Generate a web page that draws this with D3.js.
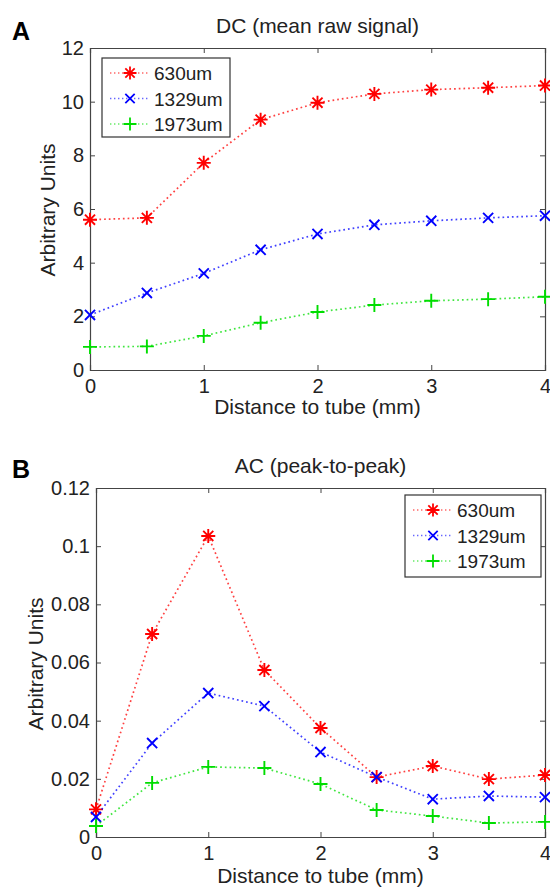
<!DOCTYPE html>
<html>
<head>
<meta charset="utf-8">
<script src="https://cdn.jsdelivr.net/npm/d3@7"></script>
<style>
  body { margin: 0; background: #fff; }
  svg text { font-family: "Liberation Sans", Arial, sans-serif; fill: #222; }
</style>
</head>
<body>
<div id="chart"></div>
<script>
// distance to tube (mm)
var distance = [0, 0.5, 1, 1.5, 2, 2.5, 3, 3.5, 4];
var seriesNames = ['630um', '1329um', '1973um'];

// DC (mean raw signal)
var dc630 = [5.6, 5.67, 7.72, 9.33, 9.96, 10.29, 10.45, 10.52, 10.6];
var dc1329 = [2.05, 2.87, 3.6, 4.48, 5.07, 5.41, 5.56, 5.67, 5.75];
var dc1973 = [0.86, 0.88, 1.27, 1.76, 2.16, 2.42, 2.58, 2.64, 2.73];

// AC (peak-to-peak)
var ac630 = [0.0095, 0.0698, 0.1035, 0.0574, 0.0375, 0.0206, 0.0244, 0.0199, 0.0213];
var ac1329 = [0.0069, 0.0323, 0.0495, 0.045, 0.0292, 0.0206, 0.013, 0.0141, 0.0137];
var ac1973 = [0.0038, 0.0186, 0.0241, 0.0237, 0.0182, 0.0093, 0.0072, 0.0048, 0.0052];

var xTicks = [0, 1, 2, 3, 4];
var dcTicks = [0, 2, 4, 6, 8, 10, 12];
var acTicks = [0, 0.02, 0.04, 0.06, 0.08, 0.1, 0.12];

var colors = ['#ff0000', '#0000ff', '#00dd00'];
var markers = ['star', 'x', 'plus'];

var svg = d3.select('#chart').append('svg')
    .attr('width', 550)
    .attr('height', 888);

function markerPath(type, r) {
    var d = r * 0.72;
    if (type === 'plus') return 'M' + (-r) + ',0H' + r + 'M0,' + (-r) + 'V' + r;
    if (type === 'x') return 'M' + (-d) + ',' + (-d) + 'L' + d + ',' + d + 'M' + (-d) + ',' + d + 'L' + d + ',' + (-d);
    // asterisk = plus + x
    return 'M' + (-r) + ',0H' + r + 'M0,' + (-r) + 'V' + r +
        'M' + (-d) + ',' + (-d) + 'L' + d + ',' + d + 'M' + (-d) + ',' + d + 'L' + d + ',' + (-d);
}

function drawPanel(config) {
    var x = d3.scaleLinear().domain([0, 4]).range([config.left, config.right]),
        y = d3.scaleLinear().domain(config.yDomain).range([config.bottom, config.top]);

    var g = svg.append('g');

    // panel letter
    g.append('text')
        .attr('x', 12)
        .attr('y', config.letterY)
        .style('font-size', '25px')
        .style('font-weight', 'bold')
        .style('fill', '#000')
        .text(config.letter);

    // title
    g.append('text')
        .attr('x', (config.left + config.right) / 2)
        .attr('y', config.titleY)
        .attr('text-anchor', 'middle')
        .style('font-size', '21px')
        .text(config.title);

    // axes (ticks inside, on all four sides like matlab)
    var tickLen = 5;
    var axB = d3.axisBottom(x).tickValues(xTicks).tickSize(-tickLen).tickPadding(9).tickFormat(d3.format('d'));
    var axT = d3.axisTop(x).tickValues(xTicks).tickSize(-tickLen).tickFormat('');
    var axL = d3.axisLeft(y).tickValues(config.yTicks).tickSize(-tickLen).tickPadding(6).tickFormat(config.yFormat);
    var axR = d3.axisRight(y).tickValues(config.yTicks).tickSize(-tickLen).tickFormat('');

    g.append('g').attr('transform', 'translate(0,' + config.bottom + ')').call(axB);
    g.append('g').attr('transform', 'translate(0,' + config.top + ')').call(axT);
    g.append('g').attr('transform', 'translate(' + config.left + ',0)').call(axL);
    g.append('g').attr('transform', 'translate(' + config.right + ',0)').call(axR);

    g.selectAll('.domain').attr('stroke', '#444').attr('stroke-width', 1.2);
    g.selectAll('.tick line').attr('stroke', '#444');
    g.selectAll('.tick text').style('font-size', '20px').style('fill', '#222').style('font-family', '"Liberation Sans", Arial, sans-serif');

    // axis labels
    g.append('text')
        .attr('x', (config.left + config.right) / 2)
        .attr('y', config.xLabelY)
        .attr('text-anchor', 'middle')
        .style('font-size', '21px')
        .text('Distance to tube (mm)');

    g.append('text')
        .attr('transform', 'translate(' + config.yLabelX + ',' + config.yLabelMid + ') rotate(-90)')
        .attr('text-anchor', 'middle')
        .style('font-size', '21px')
        .text('Arbitrary Units');

    // lines + markers
    var line = d3.line()
        .x(function (d, i) { return x(distance[i]); })
        .y(function (d) { return y(d); });

    config.series.forEach(function (values, k) {
        g.append('path')
            .datum(values)
            .attr('d', line)
            .attr('fill', 'none')
            .attr('stroke', colors[k])
            .attr('stroke-opacity', 0.75)
            .attr('stroke-width', 1.7)
            .attr('stroke-dasharray', '1.7,3');

        g.selectAll('.m' + k)
            .data(values)
            .enter().append('path')
            .attr('transform', function (d, i) { return 'translate(' + x(distance[i]) + ',' + y(d) + ')'; })
            .attr('d', markerPath(markers[k], 7))
            .attr('fill', 'none')
            .attr('stroke', colors[k])
            .attr('stroke-width', 1.9);
    });

    // legend
    var lg = config.legend;
    g.append('rect')
        .attr('x', lg.x)
        .attr('y', lg.y)
        .attr('width', lg.w)
        .attr('height', lg.h)
        .attr('fill', '#fff')
        .attr('stroke', '#333')
        .attr('stroke-width', 1.2);

    seriesNames.forEach(function (name, k) {
        var ry = lg.y + 15 + k * 25.5;
        g.append('line')
            .attr('x1', lg.x + 8)
            .attr('x2', lg.x + 48)
            .attr('y1', ry)
            .attr('y2', ry)
            .attr('stroke', colors[k])
            .attr('stroke-opacity', 0.6)
            .attr('stroke-width', 1.4)
            .attr('stroke-dasharray', '1.4,2.6');
        g.append('path')
            .attr('transform', 'translate(' + (lg.x + 28) + ',' + ry + ')')
            .attr('d', markerPath(markers[k], 6.5))
            .attr('fill', 'none')
            .attr('stroke', colors[k])
            .attr('stroke-width', 1.8);
        g.append('text')
            .attr('x', lg.x + 52)
            .attr('y', ry + 7)
            .style('font-size', '19px')
            .text(name);
    });
}

drawPanel({
    letter: 'A', letterY: 40,
    title: 'DC (mean raw signal)', titleY: 33,
    left: 90, right: 545, top: 48, bottom: 370,
    yDomain: [0, 12], yTicks: dcTicks, yFormat: d3.format('d'),
    xLabelY: 414, yLabelX: 55, yLabelMid: 210,
    series: [dc630, dc1329, dc1973],
    legend: { x: 102, y: 58, w: 128, h: 79 }
});

drawPanel({
    letter: 'B', letterY: 478,
    title: 'AC (peak-to-peak)', titleY: 473,
    left: 96, right: 545, top: 488, bottom: 837,
    yDomain: [0, 0.12], yTicks: acTicks, yFormat: function (d) { return String(+d.toFixed(2)); },
    xLabelY: 883, yLabelX: 43, yLabelMid: 664,
    series: [ac630, ac1329, ac1973],
    legend: { x: 405, y: 495, w: 136, h: 82 }
});
</script>
</body>
</html>
